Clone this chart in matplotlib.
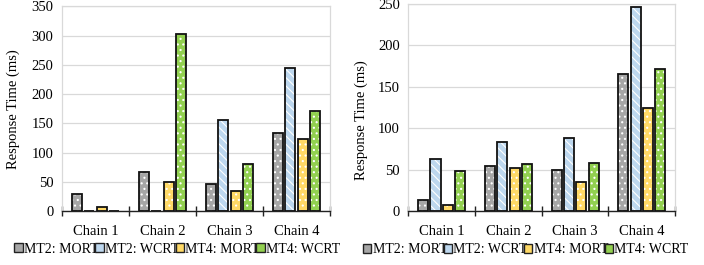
import numpy as np
import matplotlib
matplotlib.use("Agg")
import matplotlib.pyplot as plt
from matplotlib.patches import Patch

plt.rcParams['font.family'] = ['Liberation Serif', 'DejaVu Serif']
plt.rcParams['hatch.linewidth'] = 0.8

# ---- DATA ----
chains = ["Chain 1", "Chain 2", "Chain 3", "Chain 4"]
series = ["MT2: MORT", "MT2: WCRT", "MT4: MORT", "MT4: WCRT"]

# left panel
left_mt2_mort = [30, 67, 47, 134]
left_mt2_wcrt = [0, 0, 155, 245]
left_mt4_mort = [8, 50, 34, 124]
left_mt4_wcrt = [0, 302, 80, 171]

# right panel
right_mt2_mort = [14, 55, 50, 165]
right_mt2_wcrt = [63, 83, 88, 246]
right_mt4_mort = [8, 52, 35, 124]
right_mt4_wcrt = [49, 57, 58, 172]

colors = ["#A6A6A6", "#BDD7EE", "#FFD966", "#92D050"]
hatches = ["...", "\\\\\\\\", "...", "..."]
GRID = "#D9D9D9"


def draw_panel(ax, values, ymax, ylabel_y, lab_x, leg_x):
    x = np.arange(len(chains))
    width = 0.15
    step = 0.185
    for i, vals in enumerate(values):
        pos = x + (i - 1.5) * step
        # hatch pass in white, then black outline on top
        ax.bar(pos, vals, width, color=colors[i], edgecolor="white",
               hatch=hatches[i], linewidth=0, zorder=2)
        ax.bar(pos, vals, width, fill=False, edgecolor="#111111",
               linewidth=1.3, zorder=3)

    ax.set_xlim(-0.5, len(chains) - 0.5)
    ax.set_ylim(0, ymax)
    ax.set_yticks(np.arange(0, ymax + 1, 50))
    ax.set_xticks(np.arange(-0.5, len(chains), 1.0))
    ax.set_xticklabels([])
    ax.set_xticks(x, minor=True)
    ax.set_xticklabels(chains, minor=True)
    ax.tick_params(axis="x", which="major", direction="inout", length=7,
                   width=1.0, color="#222222")
    ax.tick_params(axis="x", which="minor", length=0, pad=10, labelsize=10.5)
    ax.tick_params(axis="y", length=0, pad=6, labelsize=10.5)
    ax.grid(axis="y", color=GRID, linewidth=0.9)
    ax.set_axisbelow(True)
    for s in ["left", "top", "right"]:
        ax.spines[s].set_color(GRID)
        ax.spines[s].set_linewidth(0.9)
    ax.spines["bottom"].set_color("#222222")
    ax.spines["bottom"].set_linewidth(1.0)
    ax.set_ylabel("Response Time (ms)", fontsize=10.5)
    ax.yaxis.set_label_coords(lab_x, ylabel_y)

    handles = [Patch(facecolor=colors[i], edgecolor="#222222", linewidth=1.0)
               for i in range(len(series))]
    ax.legend(handles, series, loc="center", bbox_to_anchor=(leg_x, -0.185),
              ncol=4, frameon=False, fontsize=10, handlelength=0.6,
              handleheight=0.6, handletextpad=0.1, columnspacing=-0.25,
              borderaxespad=0)


fig = plt.figure(figsize=(7.04, 2.65), dpi=100)
ax1 = fig.add_axes([0.088, 0.203, 0.381, 0.773])
ax2 = fig.add_axes([0.580, 0.203, 0.379, 0.782])

draw_panel(ax1, [left_mt2_mort, left_mt2_wcrt, left_mt4_mort, left_mt4_wcrt],
           350, 0.5, -0.157, 0.43)
draw_panel(ax2, [right_mt2_mort, right_mt2_wcrt, right_mt4_mort, right_mt4_wcrt],
           250, 0.44, -0.150, 0.44)

fig.savefig("out.png", dpi=100)
